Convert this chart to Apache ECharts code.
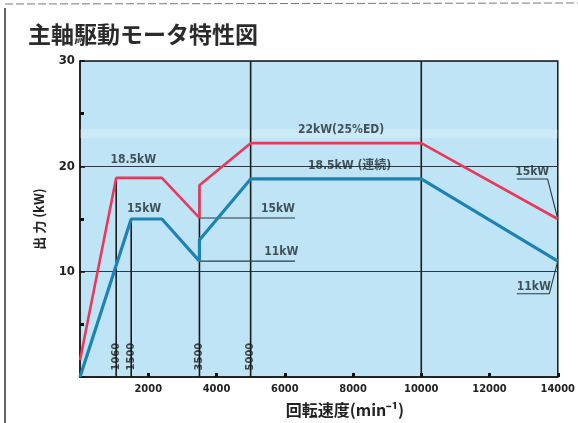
<!DOCTYPE html>
<html><head><meta charset="utf-8">
<script src="https://cdn.jsdelivr.net/npm/echarts@6/dist/echarts.min.js"></script>
<style>html,body{margin:0;padding:0;background:#fff}#c{width:578px;height:423px}</style>
</head><body><div id="c"></div>
<script>
// 短時間定格 22kW(25%ED) curve
const shortSpeed = [0, 1060, 2400, 3500, 3500, 5000, 10000, 14000];
const shortPower = [1.6, 18.9, 18.9, 15.1, 18.2, 22.2, 22.2, 15.0];
// 連続定格 18.5kW curve
const contSpeed = [0, 1500, 2400, 3500, 3500, 5000, 10000, 14000];
const contPower = [0, 15.0, 15.0, 11.0, 13.0, 18.8, 18.8, 11.0];
// vertical speed marker lines
const markSpeed = [1060, 1500, 3500, 5000, 10000];
const markTop = [18.9, 15.0, 18.2, 30, 30];
const markText = ['1060', '1500', '3500', '5000', ''];
// tick labels
const xTickLabels = [2000, 4000, 6000, 8000, 10000, 12000, 14000];
const yTickLabels = [10, 20, 30];
// annotation texts (speed, kW)
const noteText = ['18.5kW', '15kW', '22kW(25%ED)', '18.5kW (連続)', '15kW', '11kW', '15kW', '11kW'];
const noteSpeed = [1560, 1880, 7650, 7900, 5800, 5900, 13250, 13300];
const notePower = [20.6, 15.95, 23.5, 20.0, 15.95, 11.9, 19.5, 8.6];
// leader lines under annotations
const leaderSpeed = [[3500, 6300], [3500, 6300], [12800, 13700, 14000], [12800, 13750, 14000]];
const leaderPower = [[15.1, 15.1], [11.0, 11.0], [18.8, 18.8, 15.0], [7.9, 7.9, 11.0]];

const numFont = "'DejaVu Sans Condensed','Liberation Sans Narrow','DejaVu Sans',sans-serif";
const cjkFont = "'Noto Sans CJK JP','Noto Sans CJK SC',sans-serif";

const zip = (xs, ys) => xs.map((x, i) => [x, ys[i]]);
const series = [];

// background light band (scan highlight)
series.push({
  type: 'line', data: [], silent: true,
  markArea: { silent: true, itemStyle: { color: 'rgba(255,255,255,0.22)' },
    data: [[{ yAxis: 22.7 }, { yAxis: 23.5 }]] }
});

// vertical marker lines
markSpeed.forEach((s, i) => {
  series.push({
    type: 'line', data: [[s, 0], [s, markTop[i]]], symbol: 'none', silent: true,
    lineStyle: { color: '#1a1a1a', width: 1.6 }, z: 3
  });
});
// leader lines
leaderSpeed.forEach((xs, i) => {
  series.push({
    type: 'line', data: zip(xs, leaderPower[i]), symbol: 'none', silent: true,
    lineStyle: { color: '#2a3a44', width: 1.1 }, z: 3
  });
});
// curves
series.push({
  type: 'line', name: '22kW(25%ED)', data: zip(shortSpeed, shortPower), symbol: 'none',
  lineStyle: { color: '#e8385c', width: 2.6 }, z: 5
});
series.push({
  type: 'line', name: '18.5kW(連続)', data: zip(contSpeed, contPower), symbol: 'none',
  lineStyle: { color: '#1d82b4', width: 3.2 }, z: 5
});
// marker line value labels (rotated)
series.push({
  type: 'scatter', symbolSize: 0, silent: true, z: 6,
  data: markSpeed.map((s, i) => ({ value: [s, 2.6], name: markText[i] })),
  label: { show: true, formatter: p => p.name, rotate: 90, offset: [-7, 0], position: 'inside',
    fontFamily: numFont, fontWeight: 'bold', fontSize: 11, color: '#1a1a1a' }
});
// annotations
series.push({
  type: 'scatter', symbolSize: 0, silent: true, z: 6,
  data: noteText.map((t, i) => ({ value: [noteSpeed[i], notePower[i]], name: t })),
  label: { show: true, formatter: p => p.name, position: 'inside',
    fontFamily: numFont + "," + cjkFont, fontWeight: 'bold', fontSize: 12, color: '#1f2a30' }
});

const chart = echarts.init(document.getElementById('c'), null, { renderer: 'canvas' });
chart.setOption({
  animation: false,
  backgroundColor: '#ffffff',
  grid: { left: 80, right: 17, top: 61, bottom: 41, show: true,
    backgroundColor: '#bfe4f5', borderColor: '#1a1a1a', borderWidth: 1.5 },
  xAxis: {
    type: 'value', min: 0, max: 14000, interval: 2000,
    name: '回転速度(min⁻¹)', nameLocation: 'middle', nameGap: 25,
    nameTextStyle: { fontFamily: cjkFont, fontSize: 16, fontWeight: 'bold', color: '#222', padding: [0, 0, 0, 52] },
    axisLine: { lineStyle: { color: '#1a1a1a', width: 1.5 } },
    axisTick: { inside: true, length: 4, lineStyle: { color: '#111', width: 3 } },
    axisLabel: { fontFamily: numFont, fontWeight: 'bold', fontSize: 11, color: '#222', margin: 7,
      formatter: v => xTickLabels.includes(v) ? String(v) : '' },
    splitLine: { show: false }
  },
  yAxis: {
    type: 'value', min: 0, max: 30, interval: 10,
    name: '出 力 (kW)', nameLocation: 'middle', nameGap: 34, nameRotate: 90,
    nameTextStyle: { fontFamily: cjkFont, fontSize: 13, fontWeight: 'bold', color: '#222' },
    axisLine: { lineStyle: { color: '#1a1a1a', width: 1.5 } },
    axisTick: { inside: true, length: 5, lineStyle: { color: '#111', width: 1.5 } },
    minorTick: { show: true, splitNumber: 2, length: 4, lineStyle: { color: '#111', width: 3 } },
    axisLabel: { fontFamily: numFont, fontWeight: 'bold', fontSize: 13, color: '#222', margin: 5,
      formatter: v => yTickLabels.includes(v) ? String(v) : '' },
    splitLine: { show: true, lineStyle: { color: '#2d3a44', width: 1.1 } }
  },
  graphic: [
    { type: 'text', left: 28, top: 23, style: { text: '主軸駆動モータ特性図',
      font: "bold 23px 'Noto Sans CJK JP'", fill: '#2b2b2b' } },
    { type: 'line', shape: { x1: 5, y1: 8, x2: 5, y2: 423 }, style: { stroke: '#333', lineWidth: 1.5 } },
    { type: 'line', shape: { x1: 5, y1: 4, x2: 578, y2: 3 }, style: { stroke: '#777', lineWidth: 1, lineDash: [8, 3] } }
  ],
  series
});
</script></body></html>
